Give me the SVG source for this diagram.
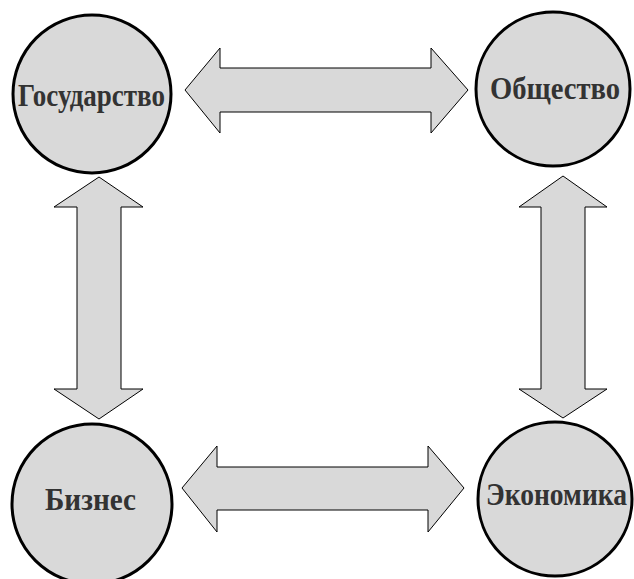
<svg xmlns="http://www.w3.org/2000/svg" width="634" height="579" viewBox="0 0 634 579">
<style>
.node circle{fill:#d9d9d9;stroke:#000;stroke-width:3}
.node text{font-family:"Liberation Serif","Times New Roman",serif;font-weight:bold;font-size:32px;fill:#333;text-anchor:middle}
.arrow{fill:#d9d9d9;stroke:#000;stroke-width:1;stroke-linejoin:miter}
</style>
<rect width="634" height="579" fill="#fff"/>
<g id="connectors">
<path class="arrow" d="M185,90 L220,48 L220,68 L431,68 L431,48 L468,90 L431,133 L431,112 L220,112 L220,133 Z"/>
<path class="arrow" d="M182,488 L217,446 L217,467 L428,467 L428,446 L464,488 L428,532 L428,510 L217,510 L217,532 Z"/>
<path class="arrow" d="M99,177 L143,207 L121,207 L121,389 L143,389 L99,419 L54,389 L77,389 L77,207 L54,207 Z"/>
<path class="arrow" d="M563,176 L607,207 L585,207 L585,389 L607,389 L563,418 L519,389 L541,389 L541,207 L519,207 Z"/>
</g>
<g id="gosudarstvo" class="node"><circle cx="92" cy="94" r="79"/><text x="91.5" y="106" textLength="147" lengthAdjust="spacingAndGlyphs">Государство</text></g>
<g id="obshchestvo" class="node"><circle cx="553" cy="89" r="77"/><text x="555" y="99" textLength="130" lengthAdjust="spacingAndGlyphs">Общество</text></g>
<g id="biznes" class="node"><circle cx="92" cy="504" r="80"/><text x="90.5" y="510" textLength="91" lengthAdjust="spacingAndGlyphs">Бизнес</text></g>
<g id="ekonomika" class="node"><circle cx="555" cy="499" r="77"/><text x="556.5" y="505" textLength="141" lengthAdjust="spacingAndGlyphs">Экономика</text></g>
</svg>
